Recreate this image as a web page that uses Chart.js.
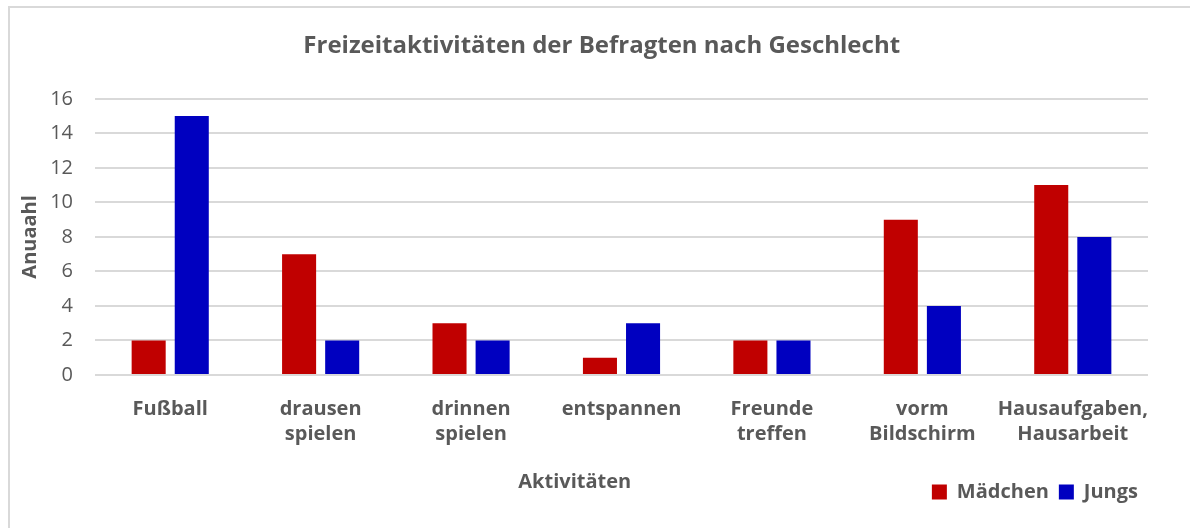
<!DOCTYPE html>
<html>
<head>
<meta charset="utf-8">
<script src="https://cdn.jsdelivr.net/npm/chart.js@4"></script>
<style>
  html, body { margin: 0; padding: 0; background: #fff; overflow: hidden; }
  #frame { position: absolute; left: 8px; top: 6px; width: 1200px; height: 540px; border: 2px solid #d9d9d9; }
  #myChart { position: absolute; left: 0; top: 0; }
</style>
</head>
<body>
<div id="frame"></div>
<canvas id="myChart" width="1190" height="528"></canvas>
<script>
const categories = [
  ["Fußball"],
  ["drausen", "spielen"],
  ["drinnen", "spielen"],
  ["entspannen"],
  ["Freunde", "treffen"],
  ["vorm", "Bildschirm"],
  ["Hausaufgaben,", "Hausarbeit"],
];
const maedchen = [2, 7, 3, 1, 2, 9, 11];
const jungs = [15, 2, 2, 3, 2, 4, 8];

const grey = "#595959";
const fontFamily = "'Open Sans', sans-serif";

// nbsp padding nudges the centred titles to where they sit in the original
const pad = (n) => "\u00a0".repeat(n);

const data = {
  labels: categories,
  datasets: [
    {
      label: "Mädchen",
      data: maedchen,
      backgroundColor: "#C00000",
      categoryPercentage: 0.573,
      barPercentage: 0.79,
    },
    {
      label: "Jungs",
      data: jungs,
      backgroundColor: "#0000C0",
      categoryPercentage: 0.573,
      barPercentage: 0.79,
    },
  ],
};

const config = {
  type: "bar",
  data,
  options: {
    responsive: false,
    animation: false,
    layout: { padding: { left: 18, right: 42, top: 24, bottom: 16 } },
    plugins: {
      title: {
        display: true,
        text: pad(6) + "Freizeitaktivitäten der Befragten nach Geschlecht",
        color: grey,
        font: { family: fontFamily, size: 24, weight: "bold" },
        padding: { top: 8, bottom: 38 },
      },
      legend: {
        position: "bottom",
        align: "end",
        labels: {
          color: grey,
          boxWidth: 15,
          boxHeight: 15,
          font: { family: fontFamily, size: 20, weight: "bold" },
        },
      },
      tooltip: { enabled: false },
    },
    scales: {
      x: {
        grid: { display: false, drawTicks: false },
        border: { display: false },
        ticks: {
          color: grey,
          font: { family: fontFamily, size: 20, weight: "bold", lineHeight: 1.25 },
          maxRotation: 0,
          autoSkip: false,
          padding: 22,
        },
        title: {
          display: true,
          text: "Aktivitäten" + pad(18),
          color: grey,
          font: { family: fontFamily, size: 20, weight: "bold" },
          padding: { top: 1, bottom: -22 },
        },
      },
      y: {
        min: 0,
        max: 16,
        afterFit: (scale) => { scale.width = 77; },
        ticks: {
          stepSize: 2,
          color: grey,
          font: { family: fontFamily, size: 20 },
          padding: 22,
        },
        grid: { color: "#d9d9d9", lineWidth: 2, drawTicks: false },
        border: { display: false },
        title: {
          display: true,
          text: "Anuaahl",
          color: grey,
          font: { family: fontFamily, size: 20, weight: "bold" },
          padding: { top: 0, bottom: 8 },
        },
      },
    },
  },
};

const myChart = new Chart(document.getElementById("myChart"), config);
</script>
</body>
</html>
